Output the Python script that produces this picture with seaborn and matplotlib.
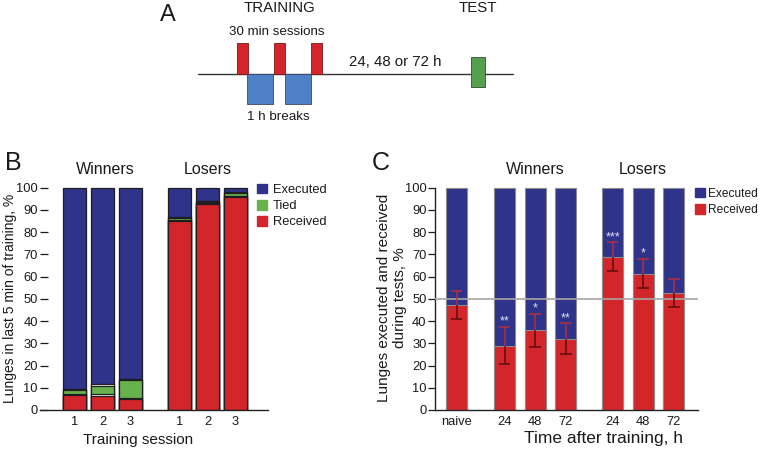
import numpy as np
import pandas as pd
import matplotlib
matplotlib.use("Agg")
import matplotlib.pyplot as plt
import seaborn as sns
from matplotlib.patches import Rectangle, Patch

# ---------------- data ----------------
# Panel B: lunges in last 5 min of training, %
b_groups = ["Winners", "Winners", "Winners", "Losers", "Losers", "Losers"]
b_sessions = ["1", "2", "3", "1", "2", "3"]
b_received = [6.8, 6.4, 5.0, 85.0, 92.7, 95.6]
b_tied = [2.2, 4.6, 8.5, 1.3, 0.8, 2.0]
b_executed = [91.0, 89.0, 86.5, 13.7, 6.5, 2.4]

# Panel C: lunges executed / received during tests, %
c_groups = ["naive", "Winners", "Winners", "Winners", "Losers", "Losers", "Losers"]
c_labels = ["naive", "24", "48", "72", "24", "48", "72"]
c_received = [47.3, 29.0, 35.9, 32.1, 68.9, 61.4, 52.6]
c_executed = [52.7, 71.0, 64.1, 67.9, 31.1, 38.6, 47.4]
c_sem = [6.2, 8.4, 7.4, 6.9, 6.5, 6.6, 6.3]
c_stars = ["", "**", "*", "**", "***", "*", ""]

# ---------------- layout / style ----------------
b_pos = [0, 1, 2, 3.75, 4.75, 5.75]
c_pos = [0, 1.57, 2.57, 3.57, 5.1, 6.1, 7.1]

BLUE = "#2f3389"
RED = "#d2262b"
GREEN = "#68b24e"
EDGE_B = "#1e1e1e"
EDGE_C = "#8c8c8c"
TXT = "#1a1a1a"

sns.set_style("ticks")
plt.rcParams["font.family"] = ["Liberation Sans", "DejaVu Sans"]
plt.rcParams["text.color"] = TXT
plt.rcParams["axes.labelcolor"] = TXT
plt.rcParams["xtick.color"] = TXT
plt.rcParams["ytick.color"] = TXT

W, H = 762, 450
fig = plt.figure(figsize=(W / 100, H / 100), dpi=100)


def frac_box(left, right, bottom_px, top_px):
    return [left / W, 1 - bottom_px / H, (right - left) / W, (bottom_px - top_px) / H]


PX_PER_UNIT = (410 - 187.7) / 100.0
YTOP = 101
top_px = 410 - YTOP * PX_PER_UNIT

# ---------------- panel B ----------------
axB = fig.add_axes(frac_box(40, 268, 410, top_px))
dfB = pd.DataFrame({"pos": b_pos, "received": b_received,
                    "tied": b_tied, "executed": b_executed})
gap = 0.6
dfB["lvl_total"] = dfB["received"] + dfB["tied"] + dfB["executed"]
dfB["lvl_gap2"] = dfB["received"] + dfB["tied"] + gap
dfB["lvl_tied"] = dfB["received"] + dfB["tied"]
dfB["lvl_gap1"] = dfB["received"] + gap
dfB["lvl_rec"] = dfB["received"]
for col, colr in [("lvl_total", BLUE), ("lvl_gap2", "white"), ("lvl_tied", GREEN),
                  ("lvl_gap1", "white"), ("lvl_rec", RED)]:
    sns.barplot(data=dfB, x="pos", y=col, orient="x", native_scale=True,
                width=0.82, color=colr, saturation=1, edgecolor=EDGE_B,
                linewidth=0.9, errorbar=None, ax=axB)

axB.set_xlim(-(74.5 - 40) / 28, (268 - 74.5) / 28)
axB.set_ylim(0, YTOP)
axB.set_yticks(np.arange(0, 101, 10))
axB.set_xticks(b_pos)
axB.set_xticklabels(b_sessions)
axB.tick_params(axis="y", direction="in", length=5.5, width=0.9, pad=1.5, labelsize=9.3)
axB.tick_params(axis="x", length=0, pad=4.5, labelsize=9.3)
for s in ["top", "right", "left"]:
    axB.spines[s].set_visible(False)
axB.spines["bottom"].set_linewidth(1.0)
axB.spines["bottom"].set_color("#222222")
axB.set_xlabel("Training session", fontsize=11, va="center")
axB.xaxis.set_label_coords((138 - 40) / 228, (410 - 440) / (410 - top_px))
axB.set_ylabel("Lunges in last 5 min of training, %", fontsize=10, va="center")
axB.yaxis.set_label_coords((10 - 40) / 228, (410 - 298) / (410 - top_px))
for g in ["Winners", "Losers"]:
    xs = [p for p, gg in zip(b_pos, b_groups) if gg == g]
    axB.text(np.mean(xs) + (0.1 if g == "Winners" else 0), (410 - 170) / PX_PER_UNIT, g,
             ha="center", va="center", fontsize=11.5, clip_on=False)
legB = axB.legend(handles=[Patch(facecolor=BLUE, edgecolor=BLUE, label="Executed"),
                           Patch(facecolor=GREEN, edgecolor=GREEN, label="Tied"),
                           Patch(facecolor=RED, edgecolor=RED, label="Received")],
                  loc="upper left", bbox_to_anchor=(257 / W, 1 - 184 / H),
                  bbox_transform=fig.transFigure, frameon=False, fontsize=9.3,
                  handlelength=0.75, handleheight=0.75, handletextpad=0.45,
                  labelspacing=0.3, borderpad=0, borderaxespad=0)

# ---------------- panel C ----------------
axC = fig.add_axes(frac_box(435, 698, 410, top_px))
dfC = pd.DataFrame({"pos": c_pos, "received": c_received,
                    "executed": c_executed, "sem": c_sem})
dfC["lvl_total"] = dfC["received"] + dfC["executed"]
for col, colr in [("lvl_total", BLUE), ("received", RED)]:
    sns.barplot(data=dfC, x="pos", y=col, orient="x", native_scale=True,
                width=0.69, color=colr, saturation=1, edgecolor=EDGE_C,
                linewidth=0.8, errorbar=None, ax=axC)
axC.axhline(50, color="#a6a6a6", lw=1.2, zorder=3)
upper = dfC["received"] + dfC["sem"]
lower = dfC["received"] - dfC["sem"]
cap = 0.19
axC.vlines(dfC["pos"], dfC["received"], upper, color="#b3303e", lw=1.1, zorder=4)
axC.hlines(upper, dfC["pos"] - cap, dfC["pos"] + cap, color="#b3303e", lw=1.1, zorder=4)
axC.vlines(dfC["pos"], lower, dfC["received"], color="#5e0c0c", lw=1.1, zorder=4)
axC.hlines(lower, dfC["pos"] - cap, dfC["pos"] + cap, color="#5e0c0c", lw=1.1, zorder=4)
for p, u, s in zip(dfC["pos"], upper, c_stars):
    if s:
        axC.text(p, u + 2.4, s, ha="center", va="center", color="#dfe0f7",
                 fontsize=9, zorder=5)

axC.set_xlim(-(456.5 - 435) / 30.6, (698 - 456.5) / 30.6)
axC.set_ylim(0, YTOP)
axC.set_yticks(np.arange(0, 101, 10))
axC.set_xticks(c_pos)
axC.set_xticklabels(c_labels)
axC.tick_params(axis="y", direction="out", length=5, width=0.9, pad=1.0, labelsize=9.3)
axC.tick_params(axis="x", length=0, pad=4.5, labelsize=9.3)
for s in ["top", "right"]:
    axC.spines[s].set_visible(False)
for s in ["left", "bottom"]:
    axC.spines[s].set_linewidth(1.0)
    axC.spines[s].set_color("#222222")
axC.spines["left"].set_bounds(0, 100)
axC.set_xlabel("Time after training, h", fontsize=12.5, va="center")
axC.xaxis.set_label_coords((603 - 435) / 263, (410 - 438) / (410 - top_px))
axC.set_ylabel("Lunges executed and received\nduring tests, %", fontsize=11,
               va="center", linespacing=1.25)
axC.yaxis.set_label_coords((392 - 435) / 263, (410 - 298) / (410 - top_px))
for g in ["Winners", "Losers"]:
    xs = [p for p, gg in zip(c_pos, c_groups) if gg == g]
    axC.text(np.mean(xs), (410 - 170) / PX_PER_UNIT, g,
             ha="center", va="center", fontsize=11.5, clip_on=False)
legC = axC.legend(handles=[Patch(facecolor=BLUE, edgecolor=BLUE, label="Executed"),
                           Patch(facecolor=RED, edgecolor=RED, label="Received")],
                  loc="upper left", bbox_to_anchor=(695 / W, 1 - 188 / H),
                  bbox_transform=fig.transFigure, frameon=False, fontsize=8.6,
                  handlelength=0.8, handleheight=0.8, handletextpad=0.3,
                  labelspacing=0.35, borderpad=0, borderaxespad=0)

# ---------------- overlay: panel A schematic and panel letters ----------------
ov = fig.add_axes([0, 0, 1, 1])
ov.set_xlim(0, W)
ov.set_ylim(H, 0)
ov.axis("off")
ov.patch.set_visible(False)

ov.plot([197.7, 512.7], [74, 74], color="#333333", lw=1.0, zorder=1)
for x0 in [236.7, 274.0, 311.0]:
    ov.add_patch(Rectangle((x0, 43.3), 10.8, 30.7, facecolor="#d4242c",
                           edgecolor="#7a1a1a", lw=0.6, zorder=2))
for x0, w in [(247.3, 26.0), (285.0, 26.3)]:
    ov.add_patch(Rectangle((x0, 74), w, 30, facecolor="#4f7fc6",
                           edgecolor="#3a4a6a", lw=0.6, zorder=2))
ov.add_patch(Rectangle((471, 56.7), 14, 30.6, facecolor="#55a04e",
                       edgecolor="#2f4f2f", lw=0.6, zorder=2))
ov.text(280, 8, "TRAINING", ha="center", va="center", fontsize=10.8)
ov.text(478, 8, "TEST", ha="center", va="center", fontsize=10.8)
ov.text(277, 32, "30 min sessions", ha="center", va="center", fontsize=9.6)
ov.text(395, 62, "24, 48 or 72 h", ha="center", va="center", fontsize=10.8)
ov.text(278, 117, "1 h breaks", ha="center", va="center", fontsize=9.6)
ov.text(167.5, 15, "A", ha="center", va="center", fontsize=17)
ov.text(13, 163, "B", ha="center", va="center", fontsize=18)
ov.text(381, 163, "C", ha="center", va="center", fontsize=18)

fig.savefig("out.png", dpi=100)
